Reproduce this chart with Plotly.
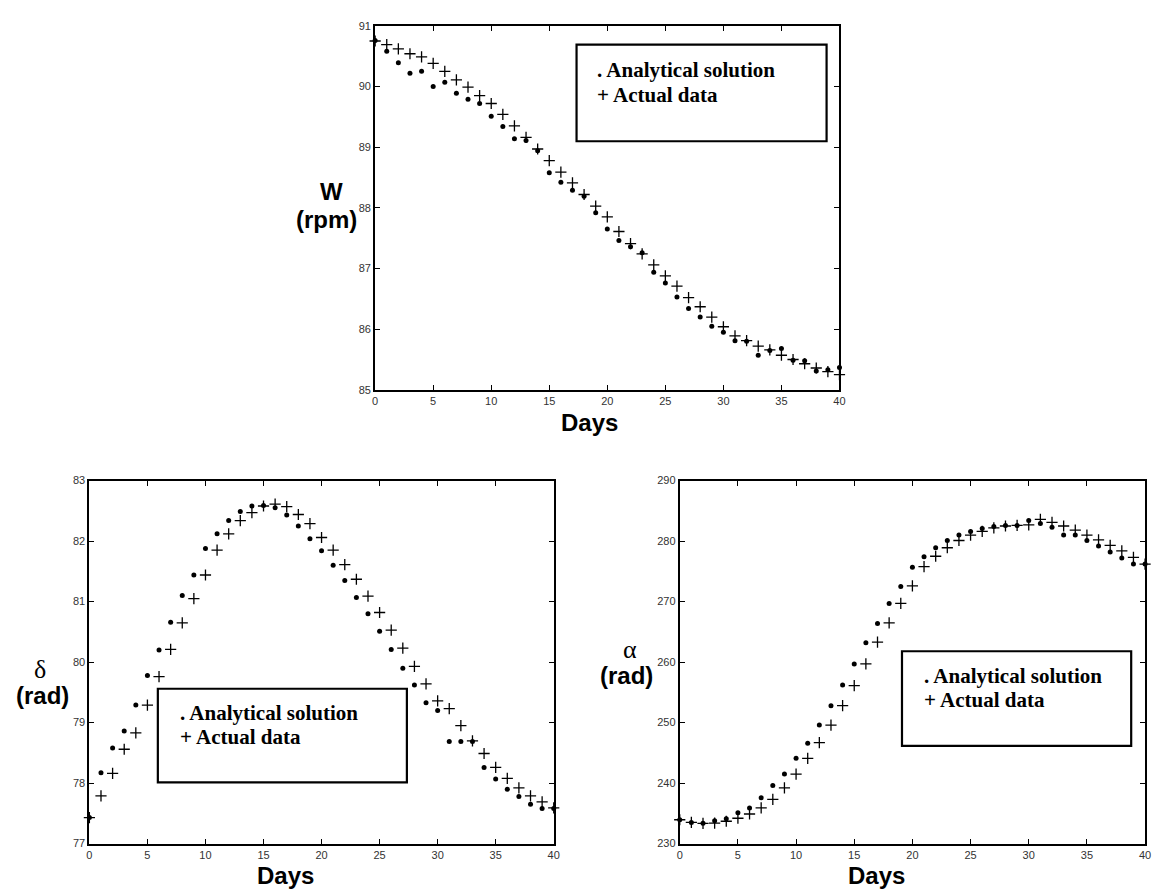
import plotly.graph_objects as go

# ---------------- data ----------------
days = list(range(41))
x_ticks = [0, 5, 10, 15, 20, 25, 30, 35, 40]

w_analytical = [90.76, 90.58, 90.39, 90.22, 90.25, 90.00, 90.07, 89.89, 89.79, 89.72,
                89.51, 89.34, 89.14, 89.11, 88.94, 88.58, 88.42, 88.29, 88.19, 87.92,
                87.65, 87.46, 87.36, 87.26, 86.94, 86.76, 86.53, 86.34, 86.20, 86.05,
                85.95, 85.81, 85.80, 85.57, 85.65, 85.68, 85.49, 85.48, 85.31, 85.33, 85.37]
w_actual = [90.75, 90.69, 90.62, 90.54, 90.49, 90.38, 90.25, 90.11, 89.99, 89.85,
            89.72, 89.54, 89.35, 89.16, 88.97, 88.78, 88.59, 88.41, 88.22, 88.03,
            87.85, 87.61, 87.41, 87.24, 87.06, 86.88, 86.71, 86.52, 86.37, 86.20,
            86.04, 85.89, 85.81, 85.72, 85.66, 85.57, 85.50, 85.43, 85.36, 85.30, 85.25]
w_ticks = [85, 86, 87, 88, 89, 90, 91]

delta_analytical = [77.43, 78.17, 78.58, 78.86, 79.29, 79.78, 80.20, 80.66, 81.10, 81.44,
                    81.88, 82.12, 82.34, 82.49, 82.58, 82.59, 82.55, 82.43, 82.25, 82.04,
                    81.84, 81.60, 81.35, 81.07, 80.80, 80.51, 80.21, 79.90, 79.62, 79.33,
                    79.20, 78.69, 78.69, 78.69, 78.26, 78.07, 77.90, 77.78, 77.65, 77.58, 77.58]
delta_actual = [77.43, 77.79, 78.16, 78.56, 78.83, 79.29, 79.76, 80.21, 80.65, 81.05,
                81.44, 81.85, 82.12, 82.34, 82.47, 82.58, 82.61, 82.57, 82.44, 82.29,
                82.06, 81.85, 81.61, 81.37, 81.09, 80.82, 80.53, 80.23, 79.93, 79.64,
                79.36, 79.23, 78.95, 78.70, 78.49, 78.26, 78.08, 77.92, 77.79, 77.69, 77.59]
delta_ticks = [77, 78, 79, 80, 81, 82, 83]

alpha_analytical = [233.95, 233.5, 233.35, 233.78, 234.1, 235.1, 235.9, 237.6, 239.6, 241.5,
                    244.1, 246.6, 249.6, 252.8, 256.2, 259.7, 263.2, 266.4, 269.7, 272.5,
                    275.7, 277.4, 278.9, 280.1, 281.0, 281.6, 282.1, 282.4, 282.6, 282.6,
                    283.4, 282.9, 282.3, 281.0, 281.0, 280.1, 279.2, 278.2, 277.2, 276.2, 276.2]
alpha_actual = [233.95, 233.5, 233.35, 233.4, 233.7, 234.2, 234.9, 235.9, 237.3, 239.2,
                241.5, 244.1, 246.7, 249.6, 252.8, 256.1, 259.7, 263.3, 266.5, 269.7,
                272.6, 275.8, 277.5, 278.9, 280.1, 281.0, 281.6, 282.2, 282.5, 282.6,
                282.7, 283.6, 283.1, 282.5, 281.8, 281.0, 280.2, 279.3, 278.4, 277.3, 276.2]
alpha_ticks = [230, 240, 250, 260, 270, 280, 290]

legend_lines = [". Analytical solution", "+ Actual data"]

# ---------------- layout helpers ----------------
PAGE_W, PAGE_H = 1161, 896
OFF = 8                      # default body margin of the html page
W, H = PAGE_W - OFF, PAGE_H - OFF


def px(x):
    return (x - OFF) / W


def py(y):
    return 1 - (y - OFF) / H


SANS = "Liberation Sans, Arial, sans-serif"
SERIF = "Liberation Serif, Times New Roman, serif"

fig = go.Figure()

panels = [
    # (axis suffix, analytical, actual, yrange, yticks, page px box)
    ("", w_analytical, w_actual, [85, 91], w_ticks, 375, 843, 20, 389),
    ("2", delta_analytical, delta_actual, [77, 83], delta_ticks, 87, 555, 481, 849),
    ("3", alpha_analytical, alpha_actual, [230, 290], alpha_ticks, 682, 1151, 481, 849),
]

for suf, ana, act, yr, yt, x0, x1, y0, y1 in panels:
    xa = "x" + suf
    ya = "y" + suf
    fig.add_trace(go.Scatter(
        x=days, y=act, mode="markers", xaxis=xa, yaxis=ya, cliponaxis=False,
        marker=dict(symbol="cross-thin", size=8, line=dict(color="black", width=1.3)),
        showlegend=False, hoverinfo="x+y"))
    fig.add_trace(go.Scatter(
        x=days, y=ana, mode="markers", xaxis=xa, yaxis=ya, cliponaxis=False,
        marker=dict(symbol="circle", size=5, color="black"),
        showlegend=False, hoverinfo="x+y"))
    common = dict(showgrid=False, zeroline=False, showline=True, linecolor="black",
                  linewidth=2, mirror="ticks", ticks="inside", ticklen=5,
                  tickcolor="black", tickwidth=1,
                  tickfont=dict(family=SANS, size=11, color="#333333"))
    fig.layout["xaxis" + suf] = dict(domain=[px(x0), px(x1)], range=[0, 40],
                                     tickvals=x_ticks, anchor=ya, **common)
    fig.layout["yaxis" + suf] = dict(domain=[py(y1), py(y0)], range=yr,
                                     tickvals=yt, anchor=xa, ticklabelstandoff=0,
                                     **common)

annotations = []
shapes = []


def label(x, y, text, family=SANS, size=24, bold=True):
    t = "<b>%s</b>" % text if bold else text
    annotations.append(dict(x=px(x), y=py(y), xref="paper", yref="paper", text=t,
                            showarrow=False, xanchor="center", yanchor="middle",
                            font=dict(family=family, size=size, color="black")))


# axis titles
label(591, 422, "Days")
label(285, 881, "Days")
label(880, 881, "Days")
label(331, 188, "W")
label(326, 216, "(rpm)")
label(37, 672, "δ", family=SERIF, size=26, bold=False)
label(40, 699, "(rad)")
label(632, 652, "α", family=SERIF, size=26, bold=False)
label(628, 679, "(rad)")

# legend boxes (page px)
boxes = [
    (578, 830, 39, 137, 597, 65, 90),
    (156, 407, 692, 787, 176, 717, 741),
    (906, 1137, 654, 750, 926, 679, 703),
]
for bx0, bx1, by0, by1, tx, l1, l2 in boxes:
    shapes.append(dict(type="rect", xref="paper", yref="paper",
                       x0=px(bx0), x1=px(bx1), y0=py(by1), y1=py(by0),
                       line=dict(color="black", width=2.2), fillcolor="white",
                       layer="above"))
    for txt, ty in zip(legend_lines, (l1, l2)):
        annotations.append(dict(x=px(tx), y=py(ty), xref="paper", yref="paper",
                                text="<b>%s</b>" % txt, showarrow=False,
                                xanchor="left", yanchor="middle",
                                font=dict(family=SERIF, size=21, color="black")))

fig.update_layout(width=W, height=H, autosize=False,
                  margin=dict(l=0, r=0, t=0, b=0),
                  paper_bgcolor="white", plot_bgcolor="white",
                  annotations=annotations, shapes=shapes, showlegend=False)

fig.write_html("out.html")
